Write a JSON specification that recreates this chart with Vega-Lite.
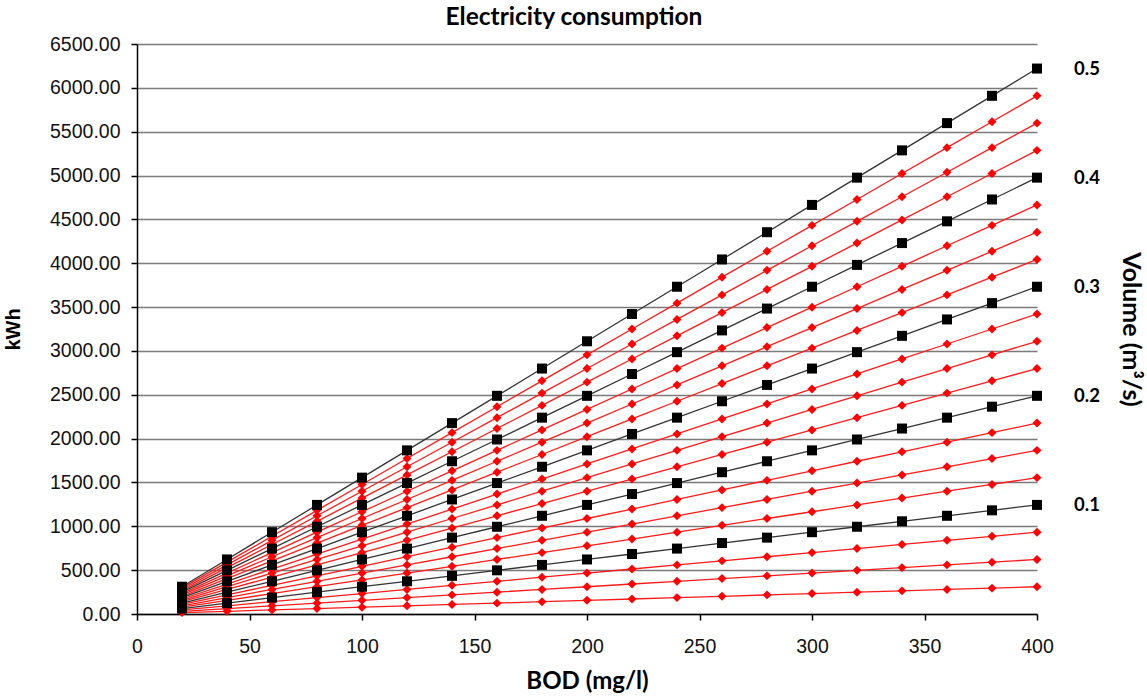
{
  "$schema": "https://vega.github.io/schema/vega-lite/v6.json",
  "width": 900,
  "height": 570,
  "autosize": "none",
  "padding": {"left": 137, "top": 44, "right": 110, "bottom": 82},
  "background": "white",
  "config": {
    "view": {"stroke": null},
    "axis": {"labelFont": "Liberation Sans", "labelFontSize": 19.5, "labelColor": "#111", "titleFont": "Lato", "titleFontWeight": "bold", "titleFontSize": 24, "titleColor": "#000"}
  },
  "title": {"text": "Electricity consumption", "font": "Lato", "fontSize": 24.5, "fontWeight": "bold", "color": "#000", "offset": 4, "dx": -13},
  "data": {"values": [
    {"b":20,"v":0.025,"k":16},{"b":40,"v":0.025,"k":31},{"b":60,"v":0.025,"k":47},{"b":80,"v":0.025,"k":62},{"b":100,"v":0.025,"k":78},{"b":120,"v":0.025,"k":93},{"b":140,"v":0.025,"k":109},{"b":160,"v":0.025,"k":124},{"b":180,"v":0.025,"k":140},{"b":200,"v":0.025,"k":156},{"b":220,"v":0.025,"k":171},{"b":240,"v":0.025,"k":187},{"b":260,"v":0.025,"k":202},{"b":280,"v":0.025,"k":218},{"b":300,"v":0.025,"k":233},{"b":320,"v":0.025,"k":249},{"b":340,"v":0.025,"k":264},{"b":360,"v":0.025,"k":280},{"b":380,"v":0.025,"k":295},{"b":400,"v":0.025,"k":311},
    {"b":20,"v":0.05,"k":31},{"b":40,"v":0.05,"k":62},{"b":60,"v":0.05,"k":93},{"b":80,"v":0.05,"k":124},{"b":100,"v":0.05,"k":156},{"b":120,"v":0.05,"k":187},{"b":140,"v":0.05,"k":218},{"b":160,"v":0.05,"k":249},{"b":180,"v":0.05,"k":280},{"b":200,"v":0.05,"k":311},{"b":220,"v":0.05,"k":342},{"b":240,"v":0.05,"k":373},{"b":260,"v":0.05,"k":404},{"b":280,"v":0.05,"k":435},{"b":300,"v":0.05,"k":467},{"b":320,"v":0.05,"k":498},{"b":340,"v":0.05,"k":529},{"b":360,"v":0.05,"k":560},{"b":380,"v":0.05,"k":591},{"b":400,"v":0.05,"k":622},
    {"b":20,"v":0.075,"k":47},{"b":40,"v":0.075,"k":93},{"b":60,"v":0.075,"k":140},{"b":80,"v":0.075,"k":187},{"b":100,"v":0.075,"k":233},{"b":120,"v":0.075,"k":280},{"b":140,"v":0.075,"k":327},{"b":160,"v":0.075,"k":373},{"b":180,"v":0.075,"k":420},{"b":200,"v":0.075,"k":467},{"b":220,"v":0.075,"k":513},{"b":240,"v":0.075,"k":560},{"b":260,"v":0.075,"k":606},{"b":280,"v":0.075,"k":653},{"b":300,"v":0.075,"k":700},{"b":320,"v":0.075,"k":746},{"b":340,"v":0.075,"k":793},{"b":360,"v":0.075,"k":840},{"b":380,"v":0.075,"k":886},{"b":400,"v":0.075,"k":933},
    {"b":20,"v":0.1,"k":62},{"b":40,"v":0.1,"k":124},{"b":60,"v":0.1,"k":187},{"b":80,"v":0.1,"k":249},{"b":100,"v":0.1,"k":311},{"b":120,"v":0.1,"k":373},{"b":140,"v":0.1,"k":435},{"b":160,"v":0.1,"k":498},{"b":180,"v":0.1,"k":560},{"b":200,"v":0.1,"k":622},{"b":220,"v":0.1,"k":684},{"b":240,"v":0.1,"k":746},{"b":260,"v":0.1,"k":809},{"b":280,"v":0.1,"k":871},{"b":300,"v":0.1,"k":933},{"b":320,"v":0.1,"k":995},{"b":340,"v":0.1,"k":1057},{"b":360,"v":0.1,"k":1120},{"b":380,"v":0.1,"k":1182},{"b":400,"v":0.1,"k":1244},
    {"b":20,"v":0.125,"k":78},{"b":40,"v":0.125,"k":156},{"b":60,"v":0.125,"k":233},{"b":80,"v":0.125,"k":311},{"b":100,"v":0.125,"k":389},{"b":120,"v":0.125,"k":467},{"b":140,"v":0.125,"k":544},{"b":160,"v":0.125,"k":622},{"b":180,"v":0.125,"k":700},{"b":200,"v":0.125,"k":778},{"b":220,"v":0.125,"k":855},{"b":240,"v":0.125,"k":933},{"b":260,"v":0.125,"k":1011},{"b":280,"v":0.125,"k":1089},{"b":300,"v":0.125,"k":1166},{"b":320,"v":0.125,"k":1244},{"b":340,"v":0.125,"k":1322},{"b":360,"v":0.125,"k":1400},{"b":380,"v":0.125,"k":1477},{"b":400,"v":0.125,"k":1555},
    {"b":20,"v":0.15,"k":93},{"b":40,"v":0.15,"k":187},{"b":60,"v":0.15,"k":280},{"b":80,"v":0.15,"k":373},{"b":100,"v":0.15,"k":467},{"b":120,"v":0.15,"k":560},{"b":140,"v":0.15,"k":653},{"b":160,"v":0.15,"k":746},{"b":180,"v":0.15,"k":840},{"b":200,"v":0.15,"k":933},{"b":220,"v":0.15,"k":1026},{"b":240,"v":0.15,"k":1120},{"b":260,"v":0.15,"k":1213},{"b":280,"v":0.15,"k":1306},{"b":300,"v":0.15,"k":1400},{"b":320,"v":0.15,"k":1493},{"b":340,"v":0.15,"k":1586},{"b":360,"v":0.15,"k":1679},{"b":380,"v":0.15,"k":1773},{"b":400,"v":0.15,"k":1866},
    {"b":20,"v":0.175,"k":109},{"b":40,"v":0.175,"k":218},{"b":60,"v":0.175,"k":327},{"b":80,"v":0.175,"k":435},{"b":100,"v":0.175,"k":544},{"b":120,"v":0.175,"k":653},{"b":140,"v":0.175,"k":762},{"b":160,"v":0.175,"k":871},{"b":180,"v":0.175,"k":980},{"b":200,"v":0.175,"k":1089},{"b":220,"v":0.175,"k":1197},{"b":240,"v":0.175,"k":1306},{"b":260,"v":0.175,"k":1415},{"b":280,"v":0.175,"k":1524},{"b":300,"v":0.175,"k":1633},{"b":320,"v":0.175,"k":1742},{"b":340,"v":0.175,"k":1850},{"b":360,"v":0.175,"k":1959},{"b":380,"v":0.175,"k":2068},{"b":400,"v":0.175,"k":2177},
    {"b":20,"v":0.2,"k":124},{"b":40,"v":0.2,"k":249},{"b":60,"v":0.2,"k":373},{"b":80,"v":0.2,"k":498},{"b":100,"v":0.2,"k":622},{"b":120,"v":0.2,"k":746},{"b":140,"v":0.2,"k":871},{"b":160,"v":0.2,"k":995},{"b":180,"v":0.2,"k":1120},{"b":200,"v":0.2,"k":1244},{"b":220,"v":0.2,"k":1368},{"b":240,"v":0.2,"k":1493},{"b":260,"v":0.2,"k":1617},{"b":280,"v":0.2,"k":1742},{"b":300,"v":0.2,"k":1866},{"b":320,"v":0.2,"k":1990},{"b":340,"v":0.2,"k":2115},{"b":360,"v":0.2,"k":2239},{"b":380,"v":0.2,"k":2364},{"b":400,"v":0.2,"k":2488},
    {"b":20,"v":0.225,"k":140},{"b":40,"v":0.225,"k":280},{"b":60,"v":0.225,"k":420},{"b":80,"v":0.225,"k":560},{"b":100,"v":0.225,"k":700},{"b":120,"v":0.225,"k":840},{"b":140,"v":0.225,"k":980},{"b":160,"v":0.225,"k":1120},{"b":180,"v":0.225,"k":1260},{"b":200,"v":0.225,"k":1400},{"b":220,"v":0.225,"k":1539},{"b":240,"v":0.225,"k":1679},{"b":260,"v":0.225,"k":1819},{"b":280,"v":0.225,"k":1959},{"b":300,"v":0.225,"k":2099},{"b":320,"v":0.225,"k":2239},{"b":340,"v":0.225,"k":2379},{"b":360,"v":0.225,"k":2519},{"b":380,"v":0.225,"k":2659},{"b":400,"v":0.225,"k":2799},
    {"b":20,"v":0.25,"k":156},{"b":40,"v":0.25,"k":311},{"b":60,"v":0.25,"k":467},{"b":80,"v":0.25,"k":622},{"b":100,"v":0.25,"k":778},{"b":120,"v":0.25,"k":933},{"b":140,"v":0.25,"k":1089},{"b":160,"v":0.25,"k":1244},{"b":180,"v":0.25,"k":1400},{"b":200,"v":0.25,"k":1555},{"b":220,"v":0.25,"k":1711},{"b":240,"v":0.25,"k":1866},{"b":260,"v":0.25,"k":2022},{"b":280,"v":0.25,"k":2177},{"b":300,"v":0.25,"k":2333},{"b":320,"v":0.25,"k":2488},{"b":340,"v":0.25,"k":2644},{"b":360,"v":0.25,"k":2799},{"b":380,"v":0.25,"k":2955},{"b":400,"v":0.25,"k":3110},
    {"b":20,"v":0.275,"k":171},{"b":40,"v":0.275,"k":342},{"b":60,"v":0.275,"k":513},{"b":80,"v":0.275,"k":684},{"b":100,"v":0.275,"k":855},{"b":120,"v":0.275,"k":1026},{"b":140,"v":0.275,"k":1197},{"b":160,"v":0.275,"k":1368},{"b":180,"v":0.275,"k":1539},{"b":200,"v":0.275,"k":1711},{"b":220,"v":0.275,"k":1882},{"b":240,"v":0.275,"k":2053},{"b":260,"v":0.275,"k":2224},{"b":280,"v":0.275,"k":2395},{"b":300,"v":0.275,"k":2566},{"b":320,"v":0.275,"k":2737},{"b":340,"v":0.275,"k":2908},{"b":360,"v":0.275,"k":3079},{"b":380,"v":0.275,"k":3250},{"b":400,"v":0.275,"k":3421},
    {"b":20,"v":0.3,"k":187},{"b":40,"v":0.3,"k":373},{"b":60,"v":0.3,"k":560},{"b":80,"v":0.3,"k":746},{"b":100,"v":0.3,"k":933},{"b":120,"v":0.3,"k":1120},{"b":140,"v":0.3,"k":1306},{"b":160,"v":0.3,"k":1493},{"b":180,"v":0.3,"k":1679},{"b":200,"v":0.3,"k":1866},{"b":220,"v":0.3,"k":2053},{"b":240,"v":0.3,"k":2239},{"b":260,"v":0.3,"k":2426},{"b":280,"v":0.3,"k":2612},{"b":300,"v":0.3,"k":2799},{"b":320,"v":0.3,"k":2986},{"b":340,"v":0.3,"k":3172},{"b":360,"v":0.3,"k":3359},{"b":380,"v":0.3,"k":3545},{"b":400,"v":0.3,"k":3732},
    {"b":20,"v":0.325,"k":202},{"b":40,"v":0.325,"k":404},{"b":60,"v":0.325,"k":606},{"b":80,"v":0.325,"k":809},{"b":100,"v":0.325,"k":1011},{"b":120,"v":0.325,"k":1213},{"b":140,"v":0.325,"k":1415},{"b":160,"v":0.325,"k":1617},{"b":180,"v":0.325,"k":1819},{"b":200,"v":0.325,"k":2022},{"b":220,"v":0.325,"k":2224},{"b":240,"v":0.325,"k":2426},{"b":260,"v":0.325,"k":2628},{"b":280,"v":0.325,"k":2830},{"b":300,"v":0.325,"k":3032},{"b":320,"v":0.325,"k":3234},{"b":340,"v":0.325,"k":3437},{"b":360,"v":0.325,"k":3639},{"b":380,"v":0.325,"k":3841},{"b":400,"v":0.325,"k":4043},
    {"b":20,"v":0.35,"k":218},{"b":40,"v":0.35,"k":435},{"b":60,"v":0.35,"k":653},{"b":80,"v":0.35,"k":871},{"b":100,"v":0.35,"k":1089},{"b":120,"v":0.35,"k":1306},{"b":140,"v":0.35,"k":1524},{"b":160,"v":0.35,"k":1742},{"b":180,"v":0.35,"k":1959},{"b":200,"v":0.35,"k":2177},{"b":220,"v":0.35,"k":2395},{"b":240,"v":0.35,"k":2612},{"b":260,"v":0.35,"k":2830},{"b":280,"v":0.35,"k":3048},{"b":300,"v":0.35,"k":3266},{"b":320,"v":0.35,"k":3483},{"b":340,"v":0.35,"k":3701},{"b":360,"v":0.35,"k":3919},{"b":380,"v":0.35,"k":4136},{"b":400,"v":0.35,"k":4354},
    {"b":20,"v":0.375,"k":233},{"b":40,"v":0.375,"k":467},{"b":60,"v":0.375,"k":700},{"b":80,"v":0.375,"k":933},{"b":100,"v":0.375,"k":1166},{"b":120,"v":0.375,"k":1400},{"b":140,"v":0.375,"k":1633},{"b":160,"v":0.375,"k":1866},{"b":180,"v":0.375,"k":2099},{"b":200,"v":0.375,"k":2333},{"b":220,"v":0.375,"k":2566},{"b":240,"v":0.375,"k":2799},{"b":260,"v":0.375,"k":3032},{"b":280,"v":0.375,"k":3266},{"b":300,"v":0.375,"k":3499},{"b":320,"v":0.375,"k":3732},{"b":340,"v":0.375,"k":3965},{"b":360,"v":0.375,"k":4199},{"b":380,"v":0.375,"k":4432},{"b":400,"v":0.375,"k":4665},
    {"b":20,"v":0.4,"k":249},{"b":40,"v":0.4,"k":498},{"b":60,"v":0.4,"k":746},{"b":80,"v":0.4,"k":995},{"b":100,"v":0.4,"k":1244},{"b":120,"v":0.4,"k":1493},{"b":140,"v":0.4,"k":1742},{"b":160,"v":0.4,"k":1990},{"b":180,"v":0.4,"k":2239},{"b":200,"v":0.4,"k":2488},{"b":220,"v":0.4,"k":2737},{"b":240,"v":0.4,"k":2986},{"b":260,"v":0.4,"k":3234},{"b":280,"v":0.4,"k":3483},{"b":300,"v":0.4,"k":3732},{"b":320,"v":0.4,"k":3981},{"b":340,"v":0.4,"k":4230},{"b":360,"v":0.4,"k":4478},{"b":380,"v":0.4,"k":4727},{"b":400,"v":0.4,"k":4976},
    {"b":20,"v":0.425,"k":264},{"b":40,"v":0.425,"k":529},{"b":60,"v":0.425,"k":793},{"b":80,"v":0.425,"k":1057},{"b":100,"v":0.425,"k":1322},{"b":120,"v":0.425,"k":1586},{"b":140,"v":0.425,"k":1850},{"b":160,"v":0.425,"k":2115},{"b":180,"v":0.425,"k":2379},{"b":200,"v":0.425,"k":2644},{"b":220,"v":0.425,"k":2908},{"b":240,"v":0.425,"k":3172},{"b":260,"v":0.425,"k":3437},{"b":280,"v":0.425,"k":3701},{"b":300,"v":0.425,"k":3965},{"b":320,"v":0.425,"k":4230},{"b":340,"v":0.425,"k":4494},{"b":360,"v":0.425,"k":4758},{"b":380,"v":0.425,"k":5023},{"b":400,"v":0.425,"k":5287},
    {"b":20,"v":0.45,"k":280},{"b":40,"v":0.45,"k":560},{"b":60,"v":0.45,"k":840},{"b":80,"v":0.45,"k":1120},{"b":100,"v":0.45,"k":1400},{"b":120,"v":0.45,"k":1679},{"b":140,"v":0.45,"k":1959},{"b":160,"v":0.45,"k":2239},{"b":180,"v":0.45,"k":2519},{"b":200,"v":0.45,"k":2799},{"b":220,"v":0.45,"k":3079},{"b":240,"v":0.45,"k":3359},{"b":260,"v":0.45,"k":3639},{"b":280,"v":0.45,"k":3919},{"b":300,"v":0.45,"k":4199},{"b":320,"v":0.45,"k":4478},{"b":340,"v":0.45,"k":4758},{"b":360,"v":0.45,"k":5038},{"b":380,"v":0.45,"k":5318},{"b":400,"v":0.45,"k":5598},
    {"b":20,"v":0.475,"k":295},{"b":40,"v":0.475,"k":591},{"b":60,"v":0.475,"k":886},{"b":80,"v":0.475,"k":1182},{"b":100,"v":0.475,"k":1477},{"b":120,"v":0.475,"k":1773},{"b":140,"v":0.475,"k":2068},{"b":160,"v":0.475,"k":2364},{"b":180,"v":0.475,"k":2659},{"b":200,"v":0.475,"k":2955},{"b":220,"v":0.475,"k":3250},{"b":240,"v":0.475,"k":3545},{"b":260,"v":0.475,"k":3841},{"b":280,"v":0.475,"k":4136},{"b":300,"v":0.475,"k":4432},{"b":320,"v":0.475,"k":4727},{"b":340,"v":0.475,"k":5023},{"b":360,"v":0.475,"k":5318},{"b":380,"v":0.475,"k":5614},{"b":400,"v":0.475,"k":5909},
    {"b":20,"v":0.5,"k":311},{"b":40,"v":0.5,"k":622},{"b":60,"v":0.5,"k":933},{"b":80,"v":0.5,"k":1244},{"b":100,"v":0.5,"k":1555},{"b":120,"v":0.5,"k":1866},{"b":140,"v":0.5,"k":2177},{"b":160,"v":0.5,"k":2488},{"b":180,"v":0.5,"k":2799},{"b":200,"v":0.5,"k":3110},{"b":220,"v":0.5,"k":3421},{"b":240,"v":0.5,"k":3732},{"b":260,"v":0.5,"k":4043},{"b":280,"v":0.5,"k":4354},{"b":300,"v":0.5,"k":4665},{"b":320,"v":0.5,"k":4976},{"b":340,"v":0.5,"k":5287},{"b":360,"v":0.5,"k":5598},{"b":380,"v":0.5,"k":5909},{"b":400,"v":0.5,"k":6220}
  ]},
  "encoding": {
    "x": {"field": "b", "type": "quantitative", "scale": {"domain": [0, 400], "nice": false},
      "axis": {"values": [0,50,100,150,200,250,300,350,400], "title": "BOD (mg/l)", "grid": false, "domainColor": "#000", "domainWidth": 1.5, "tickColor": "#000", "tickSize": 6, "tickWidth": 1.5, "labelPadding": 17, "titlePadding": 14, "labelFlush": false}}
  },
  "layer": [
    {
      "transform": [{"filter": "indexof([0.1,0.2,0.3,0.4,0.5], datum.v) < 0"}],
      "mark": {"type": "line", "color": "#ff1a1a", "strokeWidth": 1.3},
      "encoding": {
        "y": {"field": "k", "type": "quantitative", "scale": {"domain": [0, 6500], "nice": false},
          "axis": {"values": [0,500,1000,1500,2000,2500,3000,3500,4000,4500,5000,5500,6000,6500], "format": ".2f", "title": "kWh", "titleFont": "Liberation Sans", "titleFontSize": 20, "grid": true, "gridColor": "#7a7a7a", "gridWidth": 1.5, "domainColor": "#000", "domainWidth": 1.5, "tickColor": "#000", "tickSize": 6, "tickWidth": 1.5, "labelPadding": 11, "titlePadding": 26}},
        "detail": {"field": "v", "type": "nominal"}
      }
    },
    {
      "transform": [{"filter": "indexof([0.1,0.2,0.3,0.4,0.5], datum.v) >= 0"}],
      "mark": {"type": "line", "color": "#333333", "strokeWidth": 1.3},
      "encoding": {
        "y": {"field": "k", "type": "quantitative", "axis": null},
        "detail": {"field": "v", "type": "nominal"}
      }
    },
    {
      "transform": [{"filter": "indexof([0.1,0.2,0.3,0.4,0.5], datum.v) < 0"}],
      "mark": {"type": "point", "shape": "diamond", "filled": true, "color": "#ff0000", "size": 80, "opacity": 1},
      "encoding": {
        "y": {"field": "k", "type": "quantitative", "axis": null}
      }
    },
    {
      "transform": [{"filter": "indexof([0.1,0.2,0.3,0.4,0.5], datum.v) >= 0"}],
      "mark": {"type": "point", "shape": "square", "filled": true, "color": "#000000", "size": 100, "opacity": 1},
      "encoding": {
        "y": {"field": "k", "type": "quantitative", "axis": null}
      }
    },
    {
      "transform": [{"filter": "datum.b == 400 && indexof([0.1,0.2,0.3,0.4,0.5], datum.v) >= 0"}],
      "mark": {"type": "text", "font": "Lato", "fontWeight": "bold", "fontSize": 18.5, "color": "#000", "dx": 50, "align": "center", "baseline": "middle"},
      "encoding": {
        "y": {"field": "k", "type": "quantitative",
          "axis": {"orient": "right", "title": "Volume (m³/s)", "titleFontSize": 25, "labels": false, "ticks": false, "domain": false, "grid": false, "titleAngle": 90, "titlePadding": 80}},
        "text": {"field": "v", "type": "quantitative", "format": ".1f"}
      }
    }
  ],
  "resolve": {"axis": {"y": "independent"}}
}
